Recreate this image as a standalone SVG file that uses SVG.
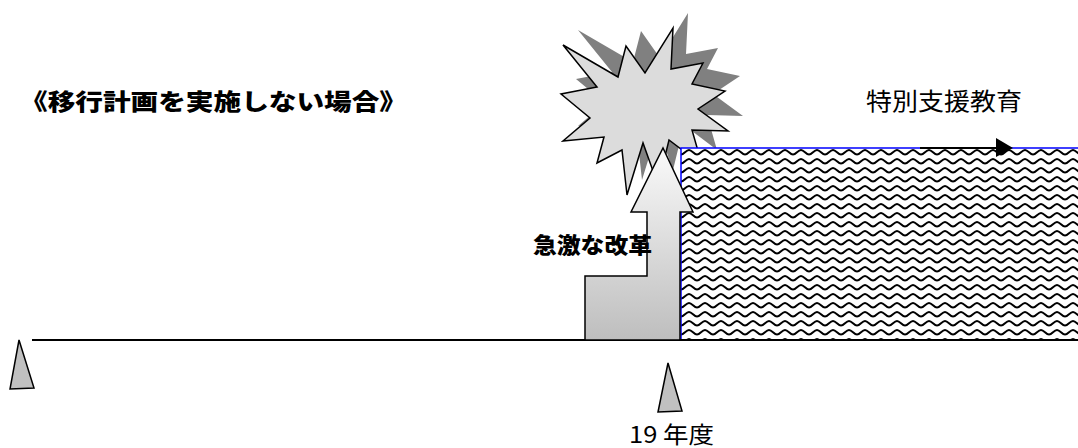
<svg xmlns="http://www.w3.org/2000/svg" width="1078" height="448" viewBox="0 0 1078 448">
<style>
.jp{font-family:"Noto Sans CJK JP","Noto Sans CJK SC",sans-serif;fill:#000}
.b{font-weight:900}
.tri{fill:#c0c0c0;stroke:#000;stroke-width:1.5;stroke-linejoin:miter}
.ln{stroke:#000;stroke-width:2;fill:none}
</style>
<defs>
<pattern id="wave" patternUnits="userSpaceOnUse" x="681" y="148" width="16" height="9">
<rect width="16" height="9" fill="#fff"/>
<path d="M0,6.5 C3,6.5 5,2 8,2 C11,2 13,6.5 16,6.5" fill="none" stroke="#000" stroke-width="2"/>
</pattern>
<linearGradient id="grad" x1="0" y1="0" x2="0" y2="1">
<stop offset="0" stop-color="#fafafa"/>
<stop offset="1" stop-color="#bebebe"/>
</linearGradient>
</defs>
<rect width="1078" height="448" fill="#fff"/>
<g id="title"><text class="jp b" x="20" y="110" font-size="23" textLength="387" lengthAdjust="spacingAndGlyphs">《移行計画を実施しない場合》</text></g>
<g id="burst">
<polygon transform="translate(15,-15)" fill="#808080" points="563,45 618,77 626,46 645,73 673,28 671,69 703,63 692,84 725,91 698,109 728,131 692,130 702,165 669,140 658,185 643,143 627,195 622,150 597,163 604,137 563,141 590,118 561,94 597,87"/>
<polygon fill="#dcdcdc" stroke="#000" stroke-width="1.5" points="563,45 618,77 626,46 645,73 673,28 671,69 703,63 692,84 725,91 698,109 728,131 692,130 702,165 669,140 658,185 643,143 627,195 622,150 597,163 604,137 563,141 590,118 561,94 597,87"/>
</g>
<g id="special-ed">
<rect x="681" y="148" width="400" height="192" fill="url(#wave)" stroke="#0000ff" stroke-width="1.5"/>
</g>
<g id="connectors">
<line class="ln" x1="920" y1="148" x2="998" y2="148"/>
<polygon points="996,138 1013,148 996,157" fill="#000"/>
<line class="ln" x1="32" y1="340" x2="1078" y2="340"/>
</g>
<g id="reform-arrow">
<polygon points="585,340 585,276 647,276 647,212 631,212 663,148 693,212 680,212 680,340" fill="url(#grad)" stroke="#000" stroke-width="1.5" stroke-linejoin="miter"/>
</g>
<g id="reform-label"><text class="jp b" x="533" y="253" font-size="22" textLength="119" lengthAdjust="spacingAndGlyphs">急激な改革</text></g>
<g id="special-label"><text class="jp" x="866" y="110" font-size="24" textLength="156" lengthAdjust="spacingAndGlyphs">特別支援教育</text></g>
<g id="start-marker"><polygon class="tri" points="19,340 10,389 34,388"/></g>
<g id="year19-marker"><polygon class="tri" points="668,363 658,412 682,411"/>
<text class="jp" x="629" y="443" font-size="23" textLength="85" lengthAdjust="spacingAndGlyphs">19 年度</text></g>
</svg>
